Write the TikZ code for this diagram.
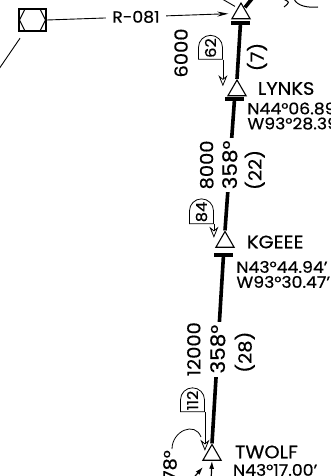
\documentclass[tikz,border=0pt]{standalone}
\usepackage{fontspec}
\setmainfont{Poppins}[FakeStretch=1.08,RawFeature={embolden=0.5}]
\usetikzlibrary{shapes.geometric,shapes.misc,arrows.meta,calc,positioning}
\begin{document}
\begin{tikzpicture}[x=1pt,y=-1pt,
    fixpt/.style={regular polygon,regular polygon sides=3,draw,line width=1.1pt,minimum size=21pt,inner sep=0pt},
    tbar/.style={fill,minimum width=19pt,minimum height=4pt,inner sep=0pt},
    course/.style={line width=3.6pt},
    radialline/.style={line width=0.9pt},
    altlbl/.style={rotate=90,font=\fontsize{18}{18}\selectfont,inner sep=1pt},
    crslbl/.style={rotate=90,font=\fontsize{20}{20}\selectfont,fill=white,inner sep=3pt},
    msabox/.style={rounded rectangle,rounded rectangle west arc=none,draw,line width=0.8pt,rotate=90,font=\fontsize{15}{15}\selectfont,minimum height=24pt,inner xsep=1.5pt,inner ysep=2pt},
    fixname/.style={font=\fontsize{18}{18}\selectfont,inner sep=0pt},
    fixcoord/.style={font=\fontsize{16}{15}\selectfont,align=left,inner sep=0pt},
    hold/.style={line width=0.8pt,-{Stealth[open,length=11pt,width=9pt]}}]
\useasboundingbox (0,0) rectangle (331,476);

\node[draw,line width=2pt,minimum width=27pt,minimum height=22pt,inner sep=0pt] (vor) at (32.5,20) {};
\draw[line width=1pt] ($(vor.west)+(1.5,0)$) -- ($(vor.north west)+(7,1)$) -- ($(vor.north east)+(-7,1)$) -- ($(vor.east)+(-1.5,0)$) -- ($(vor.south east)+(-7,-1)$) -- ($(vor.south west)+(7,-1)$) -- cycle;
\coordinate (rad2) at (-12,85);
\draw[radialline] ($(vor.center)!22pt!(rad2)$) -- (rad2);

\node[fixpt] (topfix) at (241,13.5) {};
\node[tbar] (topT) at (240.5,23) {};
\node[fixpt] (lynks) at (237,90.5) {};
\node[tbar] (lynksT) at (234.5,99.5) {};
\node[fixpt] (kgeee) at (225,242) {};
\node[tbar] (kgeeeT) at (223.5,255) {};
\node[fixpt] (twolf) at (212,455) {};

\draw[radialline,shorten >=6pt,-{Stealth[length=11pt,width=5pt]}] (vor.east) -- node[pos=0.475,fill=white,inner sep=6pt,font=\fontsize{16}{16}\selectfont] (r081) {R-081} (topfix.west);

\coordinate (t1) at (210,-8);
\draw[radialline] (t1) -- ([xshift=-6pt,yshift=-4.5pt]topfix.north);
\coordinate (t2) at (259,-10);
\draw[course] (t2) -- ([xshift=4pt,yshift=-5.5pt]topfix.north);
\draw[line width=1pt] (283,-1) .. controls (290,2) .. (284,7);
\draw[line width=1pt] (294,-1) .. controls (297,6) and (308,8) .. (318,7);

\draw[course] (topT.center) -- (lynks.north);
\draw[course] (lynksT.center) -- node[crslbl] (crs2) {358°} (kgeee.north);
\draw[course] (kgeeeT.center) -- node[crslbl] (crs3) {358°} (twolf.north);

\node[altlbl] (alt1) at (181,53) {6000};
\node[altlbl] (dist1) at (257,57) {(7)};
\node[altlbl] (alt2) at ([xshift=-23pt]crs2.center) {8000};
\node[altlbl] (dist2) at ([xshift=25pt,yshift=-5pt]crs2.center) {(22)};
\node[altlbl] (alt3) at ([xshift=-24pt]crs3.center) {12000};
\node[altlbl] (dist3) at ([xshift=27pt,yshift=-3pt]crs3.center) {(28)};

\node[msabox] (box62) at (210.5,48) {62};
\node[msabox] (box84) at (201.5,212) {84};
\node[msabox] (box112) at (192.5,400.5) {112};
\draw[hold] (box62.south west) -- (box62.south west |- lynks.north east);
\draw[hold] (box84.south west) -- (box84.south west |- kgeee.north east);
\draw[hold] (box112.south west) -- (box112.south west |- twolf.north east);

\coordinate (turnA) at (172,449);
\coordinate (turnB) at (201,437);
\draw[line width=0.8pt] (turnA) .. controls ([yshift=18pt]turnA) and ([xshift=-6pt,yshift=16pt]turnB) .. (turnB);
\node[altlbl,anchor=east] (crs4) at (170,449) {78°};

\coordinate (b1) at (211,482);
\draw[line width=1.2pt,-{Latex[length=8pt,width=5pt]}] (b1) -- (twolf.south);
\coordinate (b2) at (190,482);
\coordinate (b2e) at (203,467);
\draw[line width=1.2pt,-{Latex[length=8pt,width=5pt]}] (b2) -- (b2e);

\node[fixname,right=14pt of lynks,yshift=2pt] (lynksN) {LYNKS};
\node[fixname,right=15pt of kgeee] (kgeeeN) {KGEEE};
\node[fixname,right=16pt of twolf,yshift=3pt] (twolfN) {TWOLF};
\node[fixcoord,anchor=north west] (lynksC) at ([xshift=3pt,yshift=-5pt]lynksT.north east) {N44°06.89'\\W93°28.39'};
\node[fixcoord,anchor=north west] (kgeeeC) at ([xshift=3pt,yshift=-8pt]kgeeeT.north east) {N43°44.94'\\W93°30.47'};
\node[fixcoord,anchor=north west] (twolfC) at ([xshift=15pt,yshift=-3pt]twolf.south east) {N43°17.00'};
\end{tikzpicture}
\end{document}
